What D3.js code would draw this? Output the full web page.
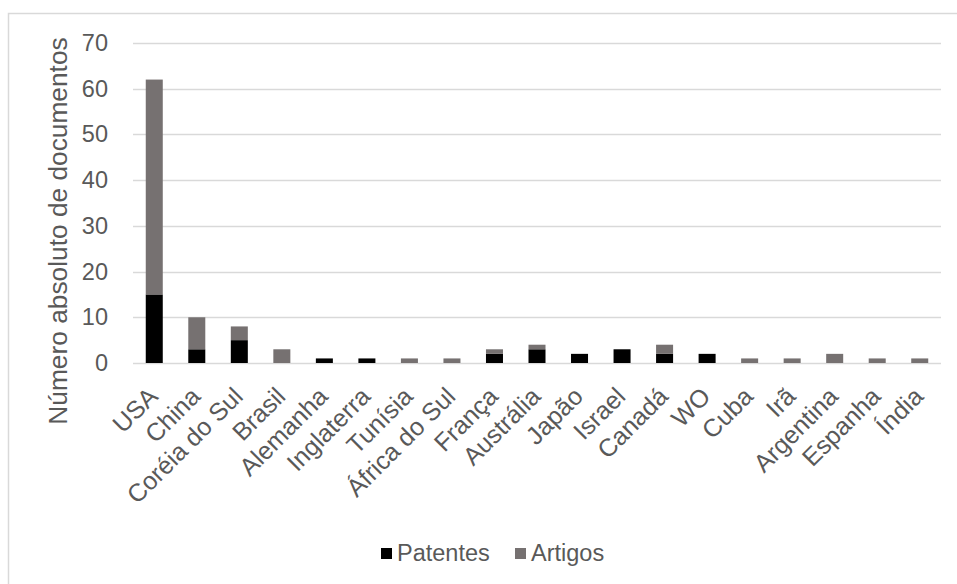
<!DOCTYPE html>
<html>
<head>
<meta charset="utf-8">
<script src="https://cdn.jsdelivr.net/npm/d3@7"></script>
<style>
  html, body { margin: 0; padding: 0; background: #fff; }
  svg { display: block; font-family: "Liberation Sans", Arial, sans-serif; }
</style>
</head>
<body>
<svg id="chart" width="957" height="584"></svg>
<script>
// Documents per country, split into patents and articles
const countries = ["USA", "China", "Coréia do Sul", "Brasil", "Alemanha", "Inglaterra", "Tunísia",
  "África do Sul", "França", "Austrália", "Japão", "Israel", "Canadá", "WO", "Cuba", "Irã",
  "Argentina", "Espanha", "Índia"];
const patentes = [15, 3, 5, 0, 1, 1, 0, 0, 2, 3, 2, 3, 2, 2, 0, 0, 0, 0, 0];
const artigos  = [47, 7, 3, 3, 0, 0, 1, 1, 1, 1, 0, 0, 2, 0, 1, 1, 2, 1, 1];
const yTicks = [0, 10, 20, 30, 40, 50, 60, 70];
const seriesNames = ["Patentes", "Artigos"];
const colors = { Patentes: "#000000", Artigos: "#767171" };

const FONT = '"Liberation Sans", Arial, sans-serif';
const TEXT = "#595959";

const svg = d3.select("#chart");
const plot = { left: 133, right: 941, top: 43, bottom: 363 };

// outer frame (runs past the right and bottom edges)
svg.append("rect")
  .attr("x", 8.5).attr("y", 13.5)
  .attr("width", 960).attr("height", 600)
  .attr("fill", "#fff").attr("stroke", "#d9d9d9").attr("stroke-width", 1.5);

const rows = countries.map((c, i) => ({ country: c, Patentes: patentes[i], Artigos: artigos[i] }));
const stacked = d3.stack().keys(seriesNames)(rows);

const x = d3.scaleBand().domain(countries).range([plot.left, plot.right]).paddingInner(0.6).paddingOuter(0.3);
const y = d3.scaleLinear().domain([0, 70]).range([plot.bottom, plot.top]);

// gridlines
svg.append("g")
  .selectAll("line").data(yTicks).join("line")
  .attr("x1", plot.left).attr("x2", plot.right)
  .attr("y1", d => Math.round(y(d)) + 0.5).attr("y2", d => Math.round(y(d)) + 0.5)
  .attr("stroke", "#d9d9d9").attr("stroke-width", 1.5);

// y axis labels
const yAxis = d3.axisLeft(y).tickValues(yTicks).tickSize(0).tickPadding(0);
const gy = svg.append("g").attr("transform", `translate(108,0)`).call(yAxis);
gy.select(".domain").remove();
gy.selectAll("text").attr("fill", TEXT).style("font-size", "23.5px").style("font-family", FONT);

// y axis title
svg.append("text")
  .attr("transform", `translate(67,${231}) rotate(-90)`)
  .attr("text-anchor", "middle")
  .attr("fill", TEXT).style("font-size", "26.3px").style("font-family", FONT)
  .text("Número absoluto de documentos");

// stacked bars
svg.append("g").selectAll("g").data(stacked).join("g")
  .attr("fill", d => colors[d.key])
  .selectAll("rect").data(d => d).join("rect")
  .attr("x", d => x(d.data.country))
  .attr("width", x.bandwidth())
  .attr("y", d => y(d[1]))
  .attr("height", d => y(d[0]) - y(d[1]));

// x axis labels rotated
const xAxis = d3.axisBottom(x).tickSize(0).tickPadding(0);
const gx = svg.append("g").attr("transform", `translate(0,${plot.bottom})`).call(xAxis);
gx.select(".domain").remove();
gx.selectAll("text")
  .attr("fill", TEXT).style("font-size", "25px").style("font-family", FONT)
  .attr("text-anchor", "end")
  .attr("dy", null).attr("y", 0)
  .attr("transform", "translate(5,35) rotate(-45)");

// legend
const legend = svg.append("g").attr("transform", "translate(381,561)");
const items = [{ name: "Patentes", x: 0 }, { name: "Artigos", x: 134 }];
items.forEach(it => {
  legend.append("rect").attr("x", it.x).attr("y", -13).attr("width", 11).attr("height", 11)
    .attr("fill", colors[it.name]);
  legend.append("text").attr("x", it.x + 16).attr("y", 0)
    .attr("fill", TEXT).style("font-size", "23.5px").style("font-family", FONT).text(it.name);
});
</script>
</body>
</html>
